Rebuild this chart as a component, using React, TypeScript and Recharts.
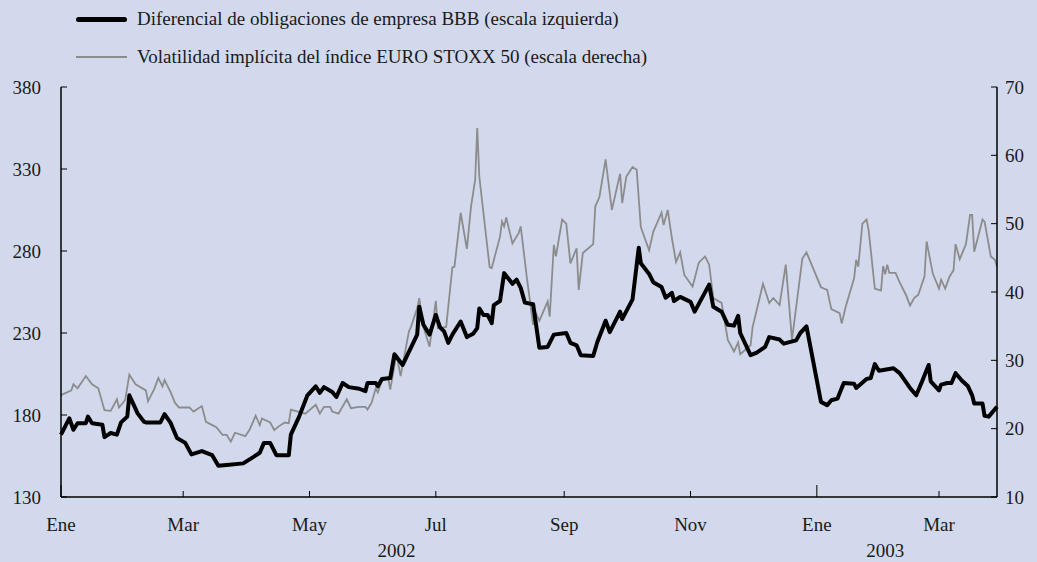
import { LineChart, Line, XAxis, YAxis } from 'recharts';

// days counted from 1 Jan 2002
const monthTicks = [0, 59, 120, 181, 243, 304, 365, 424];
const monthLabels = ['Ene', 'Mar', 'May', 'Jul', 'Sep', 'Nov', 'Ene', 'Mar'];
const yearTicks = [162, 398];
const yearLabels = ['2002', '2003'];
const leftTicks = [130, 180, 230, 280, 330, 380];
const rightTicks = [10, 20, 30, 40, 50, 60, 70];

const bbbDays = [
  0, 4, 6, 8, 12, 13, 15, 20, 21, 24, 27, 29, 32, 33, 37, 40, 41, 48, 50, 53, 56, 60, 63, 68, 73, 76, 80, 88, 93,
  96, 98, 101, 104, 110, 111, 115, 119, 123, 125, 127, 131, 133, 136, 139, 144, 147, 148, 152, 153, 155, 159, 161,
  165, 172, 173, 175, 178, 181, 183, 185, 187, 189, 193, 196, 199, 201, 202, 204, 206, 208, 209, 212, 214, 218, 220,
  222, 224, 228, 231, 235, 238, 244, 246, 249, 251, 257, 259, 263, 265, 270, 271, 276, 279, 280, 284, 286, 290, 292,
  295, 296, 299, 304, 306, 313, 315, 319, 322, 325, 327, 328, 333, 336, 340, 342, 347, 349, 355, 357, 360, 367, 370,
  372, 375, 378, 383, 384, 389, 391, 393, 395, 402, 405, 410, 413, 416, 419, 420, 424, 425, 428, 430, 432, 435, 438,
  440, 441, 445, 446, 448, 452,
];
const bbbValues = [
  168, 178, 171, 175, 175, 179, 175, 174, 166.5, 169, 168, 175.5, 179, 192, 181, 176, 175.5, 175.5, 180.5, 175, 166,
  163, 156, 158, 155.5, 149, 149.5, 150.5, 154.5, 157, 163, 163, 155.5, 155.5, 168, 179, 192, 197.5, 193.5, 197, 194,
  191, 199.5, 197, 196, 194.5, 199.5, 199.5, 197.5, 202, 202.5, 217, 210.5, 229, 246, 235, 229, 241, 233.5, 231, 224,
  229, 237, 227.5, 229.5, 233, 245, 241, 241, 236, 247, 249.5, 266.5, 260, 262.5, 257.5, 248.5, 247.5, 221, 221.5,
  229, 230, 224, 222.5, 216.5, 216, 224.5, 237.5, 230.5, 243, 238.5, 250.5, 282, 272.5, 266, 261, 258, 251.5, 254.5,
  249.5, 252, 249, 243, 259.5, 246, 243, 235, 234.5, 240.5, 230, 216.5, 218, 221.5, 227.5, 226, 223.5, 225.5, 230,
  234, 188, 186, 189, 190, 199.5, 199, 196.5, 202, 202.5, 211, 207, 208.5, 205.5, 196.5, 192, 201, 210.5, 200.5, 195,
  198.5, 199.5, 199.5, 205.5, 201, 197.5, 192, 187, 187, 179.5, 179, 185,
];

const volDays = [
  0, 5, 6, 8, 12, 15, 18, 21, 24, 27, 28, 31, 33, 36, 41, 42, 45, 47, 49, 50, 53, 55, 57, 62, 64, 68, 70, 75, 78, 80,
  82, 84, 89, 91, 94, 96, 97, 101, 103, 105, 108, 110, 111, 118, 123, 125, 127, 130, 131, 134, 138, 140, 144, 147,
  148, 150, 152, 153, 155, 158, 159, 162, 164, 168, 169, 172, 173, 175, 178, 181, 182, 186, 189, 190, 193, 196, 198,
  200, 201, 202, 207, 208, 212, 213, 214, 215, 218, 221, 222, 225, 228, 229, 231, 235, 236, 238, 239, 242, 244, 246,
  249, 250, 252, 257, 258, 260, 263, 266, 270, 271, 273, 276, 278, 280, 284, 286, 290, 291, 293, 295, 297, 299, 301,
  305, 308, 311, 313, 315, 319, 322, 325, 327, 328, 333, 334, 336, 339, 342, 344, 347, 350, 353, 358, 360, 367, 370,
  372, 376, 377, 379, 383, 384, 385, 387, 389, 390, 393, 396, 397, 398, 399, 400, 403, 405, 408, 410, 412, 414, 417,
  418, 421, 424, 425, 427, 429, 431, 432, 434, 437, 439, 440, 441, 445, 446, 449, 451, 452,
];
const volValues = [
  24.9, 25.6, 26.5, 25.9, 27.7, 26.5, 25.9, 22.7, 22.6, 24.3, 23.1, 24.2, 27.9, 26.5, 25.6, 24, 25.8, 27.4, 26.2,
  27.1, 25.3, 23.8, 23.1, 23.1, 22.5, 23.3, 21, 20.2, 19.1, 19.1, 18.1, 19.4, 18.9, 19.8, 21.9, 20.5, 21.5, 20.9,
  19.8, 20.3, 20.9, 20.8, 22.8, 22.2, 23.5, 22.2, 23.2, 23.2, 22.5, 22.2, 24.3, 23, 23.2, 23.2, 22.8, 23.8, 25.9,
  25.3, 27.1, 27.4, 25.7, 30.9, 27.7, 34.2, 34.9, 37.6, 39.1, 34.9, 32, 38.7, 34.7, 34.9, 43.6, 43.7, 51.6, 46.3,
  52.5, 56.4, 64, 56.9, 43.6, 43.5, 48.1, 50.3, 49.6, 50.9, 47.1, 48.6, 49.6, 42, 35.2, 37.1, 35.8, 38.6, 36.4, 46.9,
  45.2, 50.6, 50, 44.2, 46.4, 40.3, 45.7, 47, 52.5, 53.9, 59.4, 52, 57.3, 53, 56.9, 58.3, 57.9, 49.5, 46.1, 48.8,
  51.6, 49.8, 52, 47.9, 44.4, 45.8, 42.5, 40.8, 44.3, 45.2, 44, 39.1, 38.4, 33, 31.3, 32.6, 30.9, 32.2, 34.9, 37.4,
  41.2, 38.4, 39.1, 38.1, 44, 33, 44.9, 45.8, 40.7, 40.3, 37.5, 36.9, 35.4, 37.9, 42, 44.7, 43.7, 50, 50.6, 49.1,
  40.5, 40.2, 43.8, 42.6, 44, 42.8, 42.8, 41.4, 39.6, 38, 39.1, 39.6, 42.3, 47.4, 42.7, 40.5, 41.8, 40.5, 42.2, 43.2,
  47, 44.8, 47, 51.3, 51.3, 45.9, 50.6, 50.3, 45.2, 44.7, 43.7,
];

type Row = { day: number; bbb?: number; vol?: number };

const rows = new Map<number, Row>();
bbbDays.forEach((d, i) => {
  const r = rows.get(d) ?? { day: d };
  r.bbb = bbbValues[i];
  rows.set(d, r);
});
volDays.forEach((d, i) => {
  const r = rows.get(d) ?? { day: d };
  r.vol = volValues[i];
  rows.set(d, r);
});
const data = [...rows.values()].sort((a, b) => a.day - b.day);

const FONT = '"Liberation Serif", "Times New Roman", serif';
const TEXT = '#1a1a1a';
const FS = 19;
const X_MARGIN = 21;
const L_MARGIN = 20;
const R_MARGIN = 8;

const MonthTick = (props: any) => {
  const { x, y, payload } = props;
  const i = monthTicks.indexOf(payload.value);
  const axisY = y - X_MARGIN;
  const tall = payload.value === 0 || payload.value === 365;
  return (
    <g>
      <line x1={x} x2={x} y1={axisY} y2={axisY - (tall ? 12 : 6)} stroke="#000" strokeWidth={1} />
      <text x={x} y={y} dy="0.71em" textAnchor="middle" fontSize={FS} fill={TEXT}>
        {monthLabels[i]}
      </text>
    </g>
  );
};

const YearTick = (props: any) => {
  const { x, y, payload } = props;
  const i = yearTicks.indexOf(payload.value);
  return (
    <text x={x} y={y} dy="0.71em" textAnchor="middle" fontSize={FS} fill={TEXT}>
      {yearLabels[i]}
    </text>
  );
};

const LeftTick = (props: any) => {
  const { x, y, payload } = props;
  const axisX = x + L_MARGIN;
  return (
    <g>
      <line x1={axisX} x2={axisX + 6} y1={y} y2={y} stroke="#000" strokeWidth={1} />
      <text x={x} y={y} dy="0.35em" textAnchor="end" fontSize={FS} fill={TEXT}>
        {payload.value}
      </text>
    </g>
  );
};

const RightTick = (props: any) => {
  const { x, y, payload } = props;
  const axisX = x - R_MARGIN;
  return (
    <g>
      <line x1={axisX} x2={axisX - 6} y1={y} y2={y} stroke="#000" strokeWidth={1} />
      <text x={x} y={y} dy="0.35em" textAnchor="start" fontSize={FS} fill={TEXT}>
        {payload.value}
      </text>
    </g>
  );
};

export default function App() {
  return (
    <div
      style={{
        position: 'absolute',
        left: 0,
        top: 0,
        width: 1037,
        height: 562,
        background: '#d3d9ec',
        fontFamily: FONT,
      }}
    >
      <div style={{ position: 'absolute', left: 76, top: 7, fontSize: FS, color: TEXT }}>
        <div style={{ display: 'flex', alignItems: 'center', height: 24 }}>
          <span style={{ width: 51, height: 5, background: '#000', borderRadius: 3, marginRight: 10 }} />
          <span>Diferencial de obligaciones de empresa BBB (escala izquierda)</span>
        </div>
        <div style={{ display: 'flex', alignItems: 'center', height: 24, marginTop: 14 }}>
          <span style={{ width: 51, height: 2, background: '#8c8c8c', marginRight: 10 }} />
          <span>Volatilidad implícita del índice EURO STOXX 50 (escala derecha)</span>
        </div>
      </div>
      <LineChart width={1037} height={562} data={data} margin={{ top: 87, right: 0, bottom: 0, left: 0 }}>
        <XAxis
          xAxisId="main"
          dataKey="day"
          type="number"
          domain={[0, 452]}
          ticks={monthTicks}
          interval={0}
          height={35}
          tickSize={0}
          tickMargin={X_MARGIN}
          tickLine={false}
          tick={<MonthTick />}
          axisLine={{ stroke: '#000', strokeWidth: 1.5 }}
        />
        <XAxis
          xAxisId="year"
          dataKey="day"
          type="number"
          domain={[0, 452]}
          ticks={yearTicks}
          interval={0}
          height={30}
          tickSize={0}
          tickMargin={12}
          tickLine={false}
          axisLine={false}
          tick={<YearTick />}
        />
        <YAxis
          yAxisId="left"
          orientation="left"
          domain={[130, 380]}
          ticks={leftTicks}
          interval={0}
          width={61}
          tickSize={0}
          tickMargin={L_MARGIN}
          tickLine={false}
          tick={<LeftTick />}
          axisLine={{ stroke: '#000', strokeWidth: 1.5 }}
        />
        <YAxis
          yAxisId="right"
          orientation="right"
          domain={[10, 70]}
          ticks={rightTicks}
          interval={0}
          width={40}
          tickSize={0}
          tickMargin={R_MARGIN}
          tickLine={false}
          tick={<RightTick />}
          axisLine={{ stroke: '#000', strokeWidth: 1.5 }}
        />
        <Line
          xAxisId="main"
          yAxisId="right"
          dataKey="vol"
          type="linear"
          stroke="#8c8c8c"
          strokeWidth={1.8}
          dot={false}
          connectNulls
          isAnimationActive={false}
        />
        <Line
          xAxisId="main"
          yAxisId="left"
          dataKey="bbb"
          type="linear"
          stroke="#000"
          strokeWidth={4}
          strokeLinejoin="round"
          dot={false}
          connectNulls
          isAnimationActive={false}
        />
      </LineChart>
    </div>
  );
}
